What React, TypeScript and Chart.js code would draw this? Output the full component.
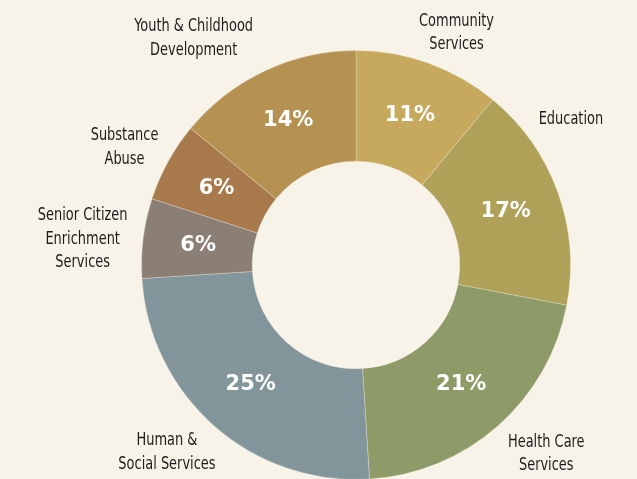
import React, { useEffect, useRef } from "react";
import { Chart, registerables } from "chart.js";

Chart.register(...registerables);

const categories = [
  ["Community", "Services"],
  ["Education"],
  ["Health Care", "Services"],
  ["Human &", "Social Services"],
  ["Senior Citizen", "Enrichment", "Services"],
  ["Substance", "Abuse"],
  ["Youth & Childhood", "Development"],
];
const shares = [11, 17, 21, 25, 6, 6, 14];
const sliceColors = ["#C6A95C", "#AFA157", "#8E9A67", "#82959B", "#8B7E75", "#A8794A", "#B59152"];
// label placement: angle (deg clockwise from top) and radius as multiple of outer radius
const labelAngles = [23.4, 55.9, 134.8, 225.3, 275.4, 296.9, 324.4];
const labelRadii = [1.18, 1.21, 1.25, 1.24, 1.28, 1.21, 1.3];

const labelsPlugin = {
  id: "sliceLabels",
  afterDatasetsDraw(chart: any) {
    const ctx = chart.ctx;
    const meta = chart.getDatasetMeta(0);
    ctx.save();
    ctx.textAlign = "center";
    ctx.textBaseline = "middle";
    meta.data.forEach((arc: any, i: number) => {
      const p = arc.tooltipPosition();
      ctx.fillStyle = "#ffffff";
      ctx.font = "bold 21px 'DejaVu Sans', sans-serif";
      ctx.fillText(shares[i] + "%", p.x, p.y);
      const { x, y, outerRadius } = arc.getProps(["x", "y", "outerRadius"], true);
      const a = (labelAngles[i] * Math.PI) / 180;
      const r = outerRadius * labelRadii[i];
      const cx = x + r * Math.sin(a);
      const cy = y - r * Math.cos(a);
      const lines = categories[i];
      const lh = 23.5;
      const sx = 0.8;
      ctx.fillStyle = "#1c1c1c";
      ctx.font = "18px 'Liberation Sans Narrow', 'DejaVu Sans Condensed', 'Roboto Condensed', sans-serif";
      lines.forEach((t, k) => {
        ctx.save();
        ctx.translate(cx, cy + (k - (lines.length - 1) / 2) * lh);
        ctx.scale(sx, 1);
        ctx.fillText(t, 0, 0);
        ctx.restore();
      });
    });
    ctx.restore();
  },
};

export default function App() {
  const ref = useRef<HTMLCanvasElement>(null);
  useEffect(() => {
    document.body.style.margin = "0";
    const chart = new Chart(ref.current!, {
      type: "doughnut",
      data: {
        labels: categories.map((c) => c.join(" ")),
        datasets: [
          {
            data: shares,
            backgroundColor: sliceColors,
            borderColor: "rgba(247,243,232,0.3)",
            borderWidth: 1,
          },
        ],
      },
      options: {
        animation: false,
        responsive: false,
        cutout: "48.4%",
        layout: { padding: { top: 50, bottom: 1, left: 141, right: 66 } },
        plugins: { legend: { display: false }, tooltip: { enabled: false } },
      },
      plugins: [labelsPlugin],
    });
    return () => chart.destroy();
  }, []);
  return (
    <div style={{ width: 637, height: 479, overflow: "hidden", background: "#F7F3E8" }}>
      <canvas ref={ref} width={637} height={481} style={{ display: "block" }} />
    </div>
  );
}
